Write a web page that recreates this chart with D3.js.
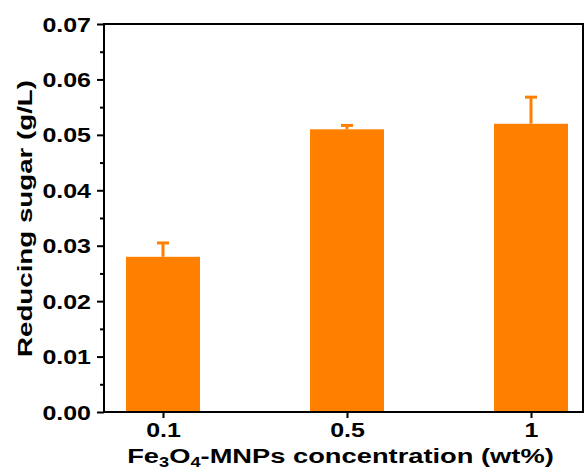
<!DOCTYPE html>
<html>
<head>
<meta charset="utf-8">
<script src="https://cdn.jsdelivr.net/npm/d3@7"></script>
<style>
  body { margin: 0; background: #fff; }
  text { font-family: "Liberation Sans", Arial, sans-serif; font-weight: bold; fill: #000; }
</style>
</head>
<body>
<svg id="chart" width="586" height="469"></svg>
<script>
const categories = ["0.1", "0.5", "1"];
const values = [0.028, 0.051, 0.052];
const errors = [0.0025, 0.0007, 0.0048];
const yTicks = [0.00, 0.01, 0.02, 0.03, 0.04, 0.05, 0.06, 0.07];
const yMinorTicks = [0.005, 0.015, 0.025, 0.035, 0.045, 0.055, 0.065];

(function() {
const svg = d3.select("#chart");
const mLeft = 104, mRight = 583, mTop = 24, mBottom = 412;
const color = "#ff8000";
const stretch = 1.28;

const x = d3.scalePoint().domain(categories).range([163, 531]);
const y = d3.scaleLinear().domain([0, 0.07]).range([mBottom, mTop]);
const barW = 74;

// bars
svg.append("g").selectAll("rect").data(values).join("rect")
  .attr("x", (d, i) => x(categories[i]) - barW / 2)
  .attr("width", barW)
  .attr("y", d => y(d))
  .attr("height", d => y(0) - y(d))
  .attr("fill", color);

// error bars (upper only)
const eg = svg.append("g").attr("stroke", color).attr("stroke-width", 3);
values.forEach((v, i) => {
  const cx = x(categories[i]);
  eg.append("line").attr("x1", cx).attr("x2", cx).attr("y1", y(v)).attr("y2", y(v + errors[i]));
  eg.append("line").attr("x1", cx - 6).attr("x2", cx + 6).attr("y1", y(v + errors[i])).attr("y2", y(v + errors[i]));
});

// y axis minor ticks
svg.append("g").attr("transform", `translate(${mLeft},0)`)
  .call(d3.axisLeft(y).tickValues(yMinorTicks).tickSize(4).tickFormat(""))
  .call(g => g.select(".domain").remove())
  .call(g => g.selectAll("line").attr("stroke-width", 2));

// y axis major
const yAxis = svg.append("g").attr("transform", `translate(${mLeft},0)`)
  .call(d3.axisLeft(y).tickValues(yTicks).tickSize(7).tickPadding(6).tickFormat(d3.format(".2f")))
  .call(g => g.select(".domain").remove())
  .call(g => g.selectAll("line").attr("stroke-width", 2));
yAxis.selectAll("text").attr("font-size", 19.5).attr("dy", "0.36em")
  .attr("font-family", "Liberation Sans, Arial, sans-serif").attr("font-weight", "bold")
  .each(function() { const w = this.getComputedTextLength(); d3.select(this).attr("textLength", w * stretch).attr("lengthAdjust", "spacingAndGlyphs"); });

// x axis
const xAxis = svg.append("g").attr("transform", `translate(0,${mBottom})`)
  .call(d3.axisBottom(x).tickSize(6).tickPadding(5))
  .call(g => g.select(".domain").remove())
  .call(g => g.selectAll("line").attr("stroke-width", 2));
xAxis.selectAll("text").attr("font-size", 19.5).attr("dy", "0.71em")
  .attr("font-family", "Liberation Sans, Arial, sans-serif").attr("font-weight", "bold")
  .each(function() { const w = this.getComputedTextLength(); d3.select(this).attr("textLength", w * stretch).attr("lengthAdjust", "spacingAndGlyphs"); });

// frame
svg.append("rect").attr("x", mLeft).attr("y", mTop).attr("width", mRight - mLeft).attr("height", mBottom - mTop)
  .attr("fill", "none").attr("stroke", "#000").attr("stroke-width", 2);

// x title
const xt = svg.append("g").attr("transform", `translate(340.5,462.5) scale(1.3,1)`)
  .append("text").attr("text-anchor", "middle").attr("font-size", 21);
xt.append("tspan").text("Fe");
xt.append("tspan").attr("font-size", 14).attr("dy", 4).text("3");
xt.append("tspan").attr("dy", -4).text("O");
xt.append("tspan").attr("font-size", 14).attr("dy", 4).text("4");
xt.append("tspan").attr("dy", -4).text("-MNPs concentration (wt%)");

// y title
svg.append("text").attr("transform", "translate(32,218.5) rotate(-90)")
  .attr("text-anchor", "middle").attr("font-size", 20)
  .attr("textLength", 277).attr("lengthAdjust", "spacingAndGlyphs")
  .text("Reducing sugar (g/L)");
})();
</script>
</body>
</html>
